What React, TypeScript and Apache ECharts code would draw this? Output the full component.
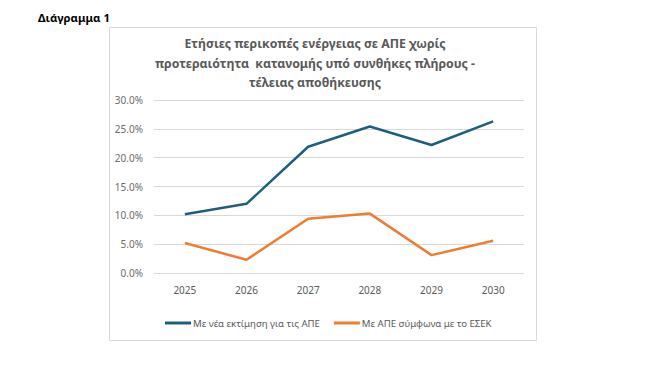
import React, { useEffect, useRef } from "react";
import * as echarts from "echarts";

const years = ["2025", "2026", "2027", "2028", "2029", "2030"];
const newEstimate = [10.2, 12.0, 21.9, 25.4, 22.2, 26.3];
const esekEstimate = [5.2, 2.3, 9.4, 10.3, 3.1, 5.6];
const seriesNames = ["Με νέα εκτίμηση για τις ΑΠΕ", "Με ΑΠΕ σύμφωνα με το ΕΣΕΚ"];
const titleText = "Ετήσιες περικοπές ενέργειας σε ΑΠΕ χωρίς\nπροτεραιότητα  κατανομής υπό συνθήκες πλήρους -\nτέλειας αποθήκευσης";
const figureLabel = "Διάγραμμα 1";

export default function App() {
  const ref = useRef<HTMLDivElement>(null);
  useEffect(() => {
    if (!ref.current) return;
    const chart = echarts.init(ref.current, undefined, { renderer: "svg" });
    chart.setOption({
      animation: false,
      backgroundColor: "#ffffff",
      textStyle: { fontFamily: "Noto Sans" },
      title: {
        text: titleText,
        left: 310,
        top: 29,
        textAlign: "center",
        textStyle: {
          fontFamily: "Noto Sans",
          fontSize: 12.3,
          fontWeight: "bold",
          color: "#595959",
          lineHeight: 19.5,
        },
      },
      graphic: [
        {
          type: "rect",
          shape: { x: 109.5, y: 27.5, width: 427, height: 313 },
          style: { fill: "none", stroke: "#d9d9d9", lineWidth: 1 },
          z: 0,
        },
        {
          type: "text",
          left: 38,
          top: 12,
          style: {
            text: figureLabel,
            font: "bold 11.3px 'Noto Sans'",
            fill: "#000000",
          },
        },
      ],
      legend: {
        bottom: 37,
        left: 160,
        itemWidth: 26,
        itemHeight: 3,
        itemGap: 14,
        icon: "rect",
        textStyle: { fontSize: 9.6, color: "#595959", fontFamily: "Noto Sans", padding: [0, 0, 0, -3] },
        data: seriesNames,
      },
      grid: { left: 154, right: 135, top: 100, bottom: 97, containLabel: false },
      xAxis: {
        type: "category",
        data: years,
        boundaryGap: true,
        axisLine: { show: false },
        axisTick: { show: false },
        axisLabel: { color: "#595959", fontSize: 10, margin: 12 },
      },
      yAxis: {
        type: "value",
        min: 0,
        max: 30,
        interval: 5,
        axisLine: { show: false },
        axisTick: { show: false },
        axisLabel: {
          color: "#6b6b6b",
          fontSize: 10,
          margin: 11,
          formatter: (v: number) => v.toFixed(1) + "%",
        },
        splitLine: { lineStyle: { color: "#d9d9d9", width: 1 } },
      },
      series: [
        {
          name: seriesNames[0],
          type: "line",
          data: newEstimate,
          symbol: "none",
          lineStyle: { color: "#1f5f7e", width: 2.5 },
          itemStyle: { color: "#1f5f7e" },
        },
        {
          name: seriesNames[1],
          type: "line",
          data: esekEstimate,
          symbol: "none",
          lineStyle: { color: "#ed7d31", width: 2.5 },
          itemStyle: { color: "#ed7d31" },
        },
      ],
    });
    return () => chart.dispose();
  }, []);
  return (
    <div
      ref={ref}
      style={{ position: "absolute", left: 0, top: 0, width: 659, height: 370 }}
    />
  );
}
